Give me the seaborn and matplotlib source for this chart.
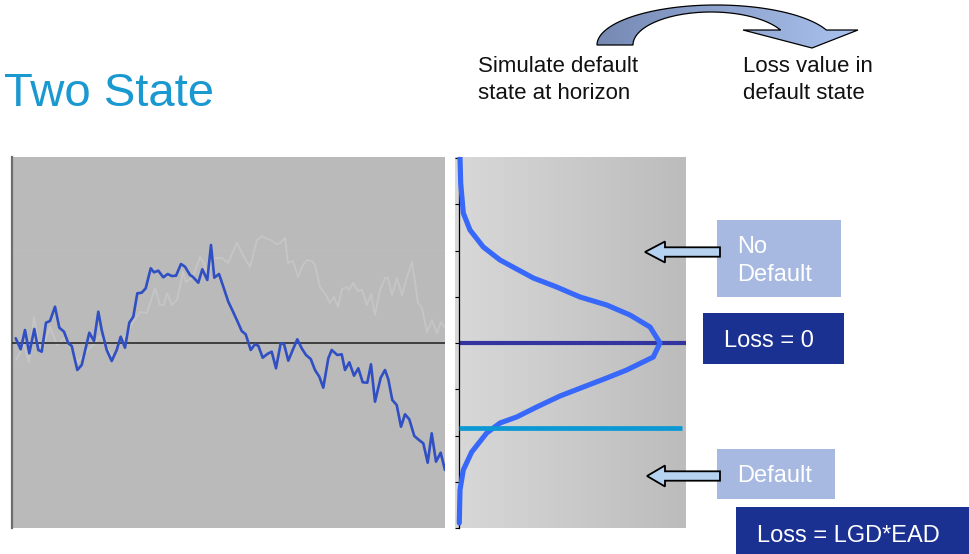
import numpy as np
import matplotlib
matplotlib.use("Agg")
import matplotlib.pyplot as plt
import seaborn as sns
from matplotlib.colors import LinearSegmentedColormap
from matplotlib.patches import Rectangle, Polygon, PathPatch
from matplotlib.path import Path

# ---------------------------------------------------------------- data
# asset value path that ends in default (time step, value vs. start)
blue_t = [3.7, 8.7, 13.0, 17.3, 22.3, 26.3, 29.7, 34.0, 38.0, 43.0,
          47.3, 52.0, 56.3, 59.7, 65.3, 69.7, 77.3, 82.0, 86.3, 89.7,
          94.7, 99.7, 104.7, 108.7, 113.0, 117.3, 121.3, 125.3, 129.7, 133.7,
          138.7, 142.0, 146.3, 151.3, 155.7, 159.7, 164.0, 169.0, 173.0, 178.0,
          180.7, 186.3, 190.3, 195.3, 199.0, 202.3, 207.0, 211.3, 216.3, 221.3,
          225.3, 229.7, 233.7, 238.7, 243.0, 246.3, 250.7, 255.3, 259.7, 264.0,
          268.7, 272.0, 276.3, 280.7, 285.3, 289.7, 294.0, 298.7, 303.0, 307.3,
          311.3, 316.3, 319.7, 325.3, 329.7, 333.0, 337.3, 342.0, 346.3, 350.7,
          355.3, 359.0, 363.0, 368.7, 373.0, 376.3, 380.3, 384.7, 389.0, 393.0,
          397.3, 402.3, 407.0, 411.3, 415.7, 419.7, 424.0, 428.7, 433.0]
blue_v = [0.47, -0.63, 1.30, -1.03, 1.40, -0.70, -0.87, 2.03, 2.20, 3.63,
          1.53, 1.13, -0.03, -0.30, -2.70, -2.20, 1.03, 0.20, 3.13, 1.30,
          -0.70, -1.80, -0.70, 0.63, -0.47, 2.03, 2.63, 4.97, 5.03, 5.47,
          7.47, 7.07, 7.23, 6.57, 6.90, 6.70, 6.73, 7.90, 7.63, 6.80,
          6.63, 6.03, 7.37, 6.30, 9.80, 6.53, 6.90, 5.63, 4.13, 3.07,
          2.20, 1.20, 0.87, -0.70, -0.13, -0.27, -1.47, -1.10, -0.87, -2.53,
          -0.03, -0.10, -1.77, -0.70, 0.37, -0.53, -1.20, -1.60, -2.70, -3.37,
          -4.47, -1.53, -0.70, -1.20, -1.13, -2.70, -1.93, -3.27, -2.53, -3.93,
          -3.97, -2.13, -5.87, -3.47, -2.70, -3.63, -5.70, -6.20, -8.37, -7.13,
          -7.63, -9.30, -9.70, -10.03, -11.97, -9.03, -11.87, -10.97, -12.70]

# faint surviving path
grey_t = [4, 12, 17, 22, 26, 30, 38, 45, 52, 60, 66, 74, 82, 88, 95, 101,
          108, 115, 121, 128, 135, 143, 148, 152, 155, 160, 165, 171, 174, 181,
          188, 192, 196, 201, 210, 216, 225, 231, 238, 245, 250, 255, 259, 264,
          268, 273, 276, 281, 286, 291, 295, 300, 303, 308, 314, 318, 322, 326,
          330, 335, 337, 341, 346, 350, 355, 359, 363, 368, 373, 376, 380, 385,
          390, 395, 400, 406, 410, 415, 420, 425, 429, 433]
grey_v = [-1.7, -0.2, -1.9, 2.6, 0.3, -0.7, 1.6, -0.2, 0.5, -0.7, -1.9, -0.9,
          -0.1, 0.7, -0.5, -1.4, 0.0, 1.0, 2.1, 3.1, 3.0, 5.5, 3.8, 3.8, 5.0,
          3.8, 4.3, 7.1, 6.1, 6.6, 8.6, 8.0, 6.8, 8.5, 8.5, 8.0, 10.0, 8.8, 7.6,
          10.3, 10.7, 10.4, 10.3, 9.9, 10.0, 10.5, 8.0, 8.2, 6.6, 7.8, 8.3, 8.2,
          7.8, 5.6, 4.8, 4.0, 4.6, 3.6, 5.4, 5.6, 5.3, 6.0, 5.2, 5.3, 3.8, 4.9,
          2.8, 5.3, 6.5, 6.5, 4.8, 6.5, 4.8, 6.6, 8.1, 4.0, 3.5, 1.1, 2.3, 1.0,
          2.1, 1.5]

# distribution of the value at the horizon
density_level = [18.6, 16.0, 13.0, 11.3, 9.6, 8.3, 6.5, 5.6, 4.6, 3.8, 2.8,
                 1.6, 0.0, -1.4, -2.7, -3.5, -4.4, -5.3, -6.4, -7.4, -8.0,
                 -9.0, -10.9, -12.7, -14.7, -18.0]
density_value = [0.5, 0.85, 2.15, 5.5, 12.15, 20.5, 37.15, 48.85, 60.5, 73.85,
                 85.5, 95.5, 100.5, 97.15, 83.85, 73.85, 62.15, 50.5, 38.85,
                 28.85, 20.5, 13.85, 6.35, 2.15, 0.5, 0.15]

no_default_level = 0.0
default_threshold = -8.5

title = "Two State"
step_labels = ["Simulate default\nstate at horizon", "Loss value in\ndefault state"]
state_labels = ["No\nDefault", "Default"]
loss_labels = ["Loss = 0", "Loss = LGD*EAD"]

# ---------------------------------------------------------------- figure
sns.set_style("white")
plt.rcParams["font.family"] = ["Liberation Sans", "DejaVu Sans"]

W, H = 969, 554
fig = plt.figure(figsize=(W / 100, H / 100), dpi=100, facecolor="white")


def frame(x0, y0, x1, y1):
    """Axes rectangle from pixel edges measured from the top-left corner."""
    return [x0 / W, 1 - y1 / H, (x1 - x0) / W, (y1 - y0) / H]


YLIM = (-18.5, 18.6)

# simulated paths
ax = fig.add_axes(frame(12, 157, 445, 528))
ax.set_facecolor("#bababa")
ax.axhline(9.3, color="#bdbdbd", lw=0.8, zorder=1)
sns.lineplot(x=grey_t, y=grey_v, sort=False, estimator=None,
             color="#c5c5c5", lw=1.4, ax=ax, zorder=2)
ax.axhline(0, color="#1e1e1e", lw=1.1, zorder=3)
sns.lineplot(x=blue_t, y=blue_v, sort=False, estimator=None,
             color="#2f4fc3", lw=1.9, ax=ax, zorder=4)
ax.set_xlim(0, 433)
ax.set_ylim(*YLIM)
ax.set_xticks([])
ax.set_yticks([])
ax.set_xlabel("")
ax.set_ylabel("")
for s in ["top", "right", "bottom"]:
    ax.spines[s].set_visible(False)
ax.spines["left"].set_color("#6e6e6e")
ax.spines["left"].set_linewidth(1.6)

# horizon distribution
axd = fig.add_axes(frame(455, 157, 686, 528))
XLIM_D = (-2, 113.5)
shade = LinearSegmentedColormap.from_list("panel", ["#d8d8d8", "#bcbcbc"])
axd.imshow(np.linspace(0, 1, 256)[None, :], cmap=shade, aspect="auto",
           extent=[XLIM_D[0], XLIM_D[1], YLIM[0], YLIM[1]], zorder=0)
axd.hlines(no_default_level, 0, XLIM_D[1], color="#3434a0", lw=3.0, zorder=2)
sns.lineplot(x=density_value, y=density_level, orient="y", sort=False,
             estimator=None, color="#3868fa", lw=3.7, ax=axd, zorder=3)
axd.hlines(default_threshold, 0, 111.3, color="#0b98d3", lw=3.4, zorder=4)
axd.set_xlim(*XLIM_D)
axd.set_ylim(*YLIM)
axd.set_xticks([])
axd.set_yticks(np.linspace(-18.5, 18.5, 9))
axd.tick_params(axis="y", direction="out", length=3, width=0.8,
                color="black", labelleft=False, left=True)
axd.set_xlabel("")
axd.set_ylabel("")
for s in ["top", "right", "bottom"]:
    axd.spines[s].set_visible(False)
axd.spines["left"].set_position(("data", 0))
axd.spines["left"].set_color("black")
axd.spines["left"].set_linewidth(0.9)

# annotation layer in pixel units
ov = fig.add_axes([0, 0, 1, 1])
ov.set_xlim(0, W)
ov.set_ylim(H, 0)
ov.axis("off")
ov.patch.set_alpha(0)

ov.text(4, 106.5, title, fontsize=34, color="#1a98d0", ha="left", va="baseline")

for x0, lab in zip([478, 743], step_labels):
    l1, l2 = lab.split("\n")
    ov.text(x0, 72.5, l1, fontsize=16, color="#111111", ha="left", va="baseline")
    ov.text(x0, 99.0, l2, fontsize=16, color="#111111", ha="left", va="baseline")

# curved block arrow between the two steps
th_o = np.radians(np.linspace(180, 22.0, 80))
th_i = np.radians(np.linspace(27.0, 180, 80))
outer = np.column_stack([716 + 119 * np.cos(th_o), 45 - 40 * np.sin(th_o)])
inner = np.column_stack([711 + 78 * np.cos(th_i), 45 - 33 * np.sin(th_i)])
head = np.array([[858, 30], [812, 48], [743, 30]])
verts = np.vstack([outer, head, inner, outer[:1]])
codes = [Path.MOVETO] + [Path.LINETO] * (len(verts) - 2) + [Path.CLOSEPOLY]
bend = PathPatch(Path(verts, codes), facecolor="none", edgecolor="black",
                 lw=0.9, zorder=5)
ov.add_patch(bend)
fill = LinearSegmentedColormap.from_list("bend", ["#7589b3", "#aac2ee"])
im = ov.imshow(np.linspace(0, 1, 256)[None, :], cmap=fill, aspect="auto",
               extent=[597, 858, 55, 2], zorder=4)
im.set_clip_path(bend)

# state boxes
boxes = [
    (717, 220, 841, 297, "#a7b9e1"),
    (703, 313, 844, 364, "#1b3192"),
    (717, 449, 835, 499, "#a7b9e1"),
    (736, 507, 969, 554, "#1b3192"),
]
for x0, y0, x1, y1, c in boxes:
    ov.add_patch(Rectangle((x0, y0), x1 - x0, y1 - y0, facecolor=c,
                           edgecolor="none", zorder=2))

nd1, nd2 = state_labels[0].split("\n")
ov.text(737, 252.7, nd1, fontsize=17, color="white", va="baseline", zorder=3)
ov.text(737, 281, nd2, fontsize=17, color="white", va="baseline", zorder=3)
ov.text(737, 481.7, state_labels[1], fontsize=17, color="white",
        va="baseline", zorder=3)
ov.text(724, 347.3, loss_labels[0], fontsize=17, color="white",
        va="baseline", zorder=3)
ov.text(757, 541.7, loss_labels[1], fontsize=17, color="white",
        va="baseline", zorder=3)

# left-pointing block arrows into the distribution
for tip_x, tip_y in [(645, 252), (647, 476)]:
    pts = [(tip_x, tip_y), (665, tip_y - 10.5), (665, tip_y - 4.7),
           (720, tip_y - 4.7), (720, tip_y + 4.7), (665, tip_y + 4.7),
           (665, tip_y + 10.5)]
    ov.add_patch(Polygon(pts, closed=True, facecolor="#b5d2f0",
                         edgecolor="black", lw=1.3, zorder=6))

fig.savefig("out.png", dpi=100, facecolor="white")
